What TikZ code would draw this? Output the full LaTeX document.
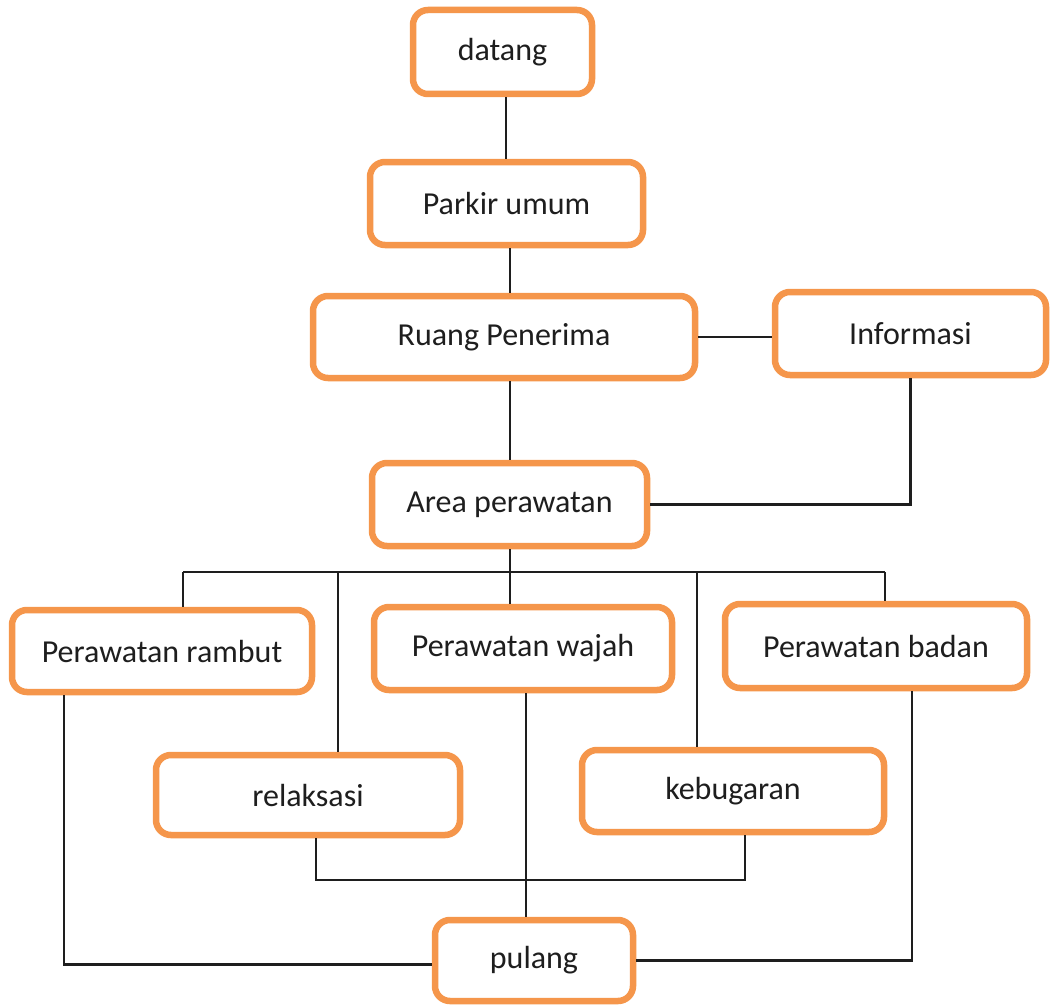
\documentclass[tikz,border=0pt]{standalone}
\usepackage{fontspec}
\setmainfont{Carlito}
\usetikzlibrary{calc}
\definecolor{boxorange}{RGB}{245,150,75}
\definecolor{ink}{RGB}{30,30,30}
\begin{document}
\begin{tikzpicture}[x=1pt,y=-1pt,
  room/.style={draw=boxorange, line width=6.5pt, rounded corners=15pt, fill=white,
    rectangle, inner sep=0pt, text=ink, font=\fontsize{32}{38}\selectfont},
  link/.style={draw=ink, line width=2.4pt}]
\useasboundingbox (0,0) rectangle (1051,1006);

% connectors (drawn first so the boxes sit on top of their ends)
\coordinate (bus) at (510,572);
\coordinate (busL) at (183,572);
\coordinate (busR) at (885,572);
\coordinate (dRel) at (338,572);
\coordinate (dBug) at (697,572);
\coordinate (c1) at (506,90);
\coordinate (c2) at (510,240);
\coordinate (ra) at (64,690);
\coordinate (ba) at (912,685);
\coordinate (wa) at (526,688);
\coordinate (rel) at (316,832);
\coordinate (bug) at (745,828);
\coordinate (low) at (0,880);

% rooms
\node[room, minimum width=179pt, minimum height=84pt] (datang) at (502.5,52) {datang};
\node[room, minimum width=273pt, minimum height=83pt] (parkir) at (506.5,203.5) {Parkir umum};
\node[room, minimum width=382pt, minimum height=82pt] (ruang) at (504,337) {Ruang Penerima};
\node[room, minimum width=271pt, minimum height=83pt] (info) at (910.5,333.5) {Informasi};
\node[room, minimum width=275pt, minimum height=83pt] (area) at (509.5,504.5) {Area perawatan};
\node[room, minimum width=300pt, minimum height=82pt] (rambut) at (162,651) {Perawatan rambut};
\node[room, minimum width=298pt, minimum height=83pt] (wajah) at (523,648.5) {Perawatan wajah};
\node[room, minimum width=302pt, minimum height=84pt] (badan) at (876,646) {Perawatan badan};
\node[room, minimum width=304pt, minimum height=80pt] (relaks) at (308,795) {relaksasi};
\node[room, minimum width=302pt, minimum height=82pt] (bugar) at (733,791) {kebugaran};
\node[room, minimum width=198pt, minimum height=81pt] (pulang) at (534,960.5) {pulang};

% entrance chain
\draw[link] (c1 |- datang.south) -- (c1 |- parkir.north);
\draw[link] (c2 |- parkir.south) -- (c2 |- ruang.north);
\draw[link] (ruang.east) -- (ruang.east -| info.west);
\draw[link] (bus |- ruang.south) -- (bus |- area.north);
\draw[link] (info.south) |- (area.east);

% distribution to treatments
\draw[link] (bus |- area.south) -- (bus);
\draw[link] (busL) -- (busR);
\draw[link] (busL) -- (busL |- rambut.north);
\draw[link] (dRel) -- (dRel |- relaks.north);
\draw[link] (bus) -- (bus |- wajah.north);
\draw[link] (dBug) -- (dBug |- bugar.north);
\draw[link] (busR) -- (busR |- badan.north);

% ways out
\draw[link] (ra |- rambut.south) |- ($(pulang.west)+(0,4)$);
\draw[link] (ba |- badan.south) |- (pulang.east);
\draw[link] (wa |- wajah.south) -- (wa |- pulang.north);
\draw[link] (rel |- relaks.south) -- (rel |- low) -- (bug |- low) -- (bug |- bugar.south);
\end{tikzpicture}
\end{document}
